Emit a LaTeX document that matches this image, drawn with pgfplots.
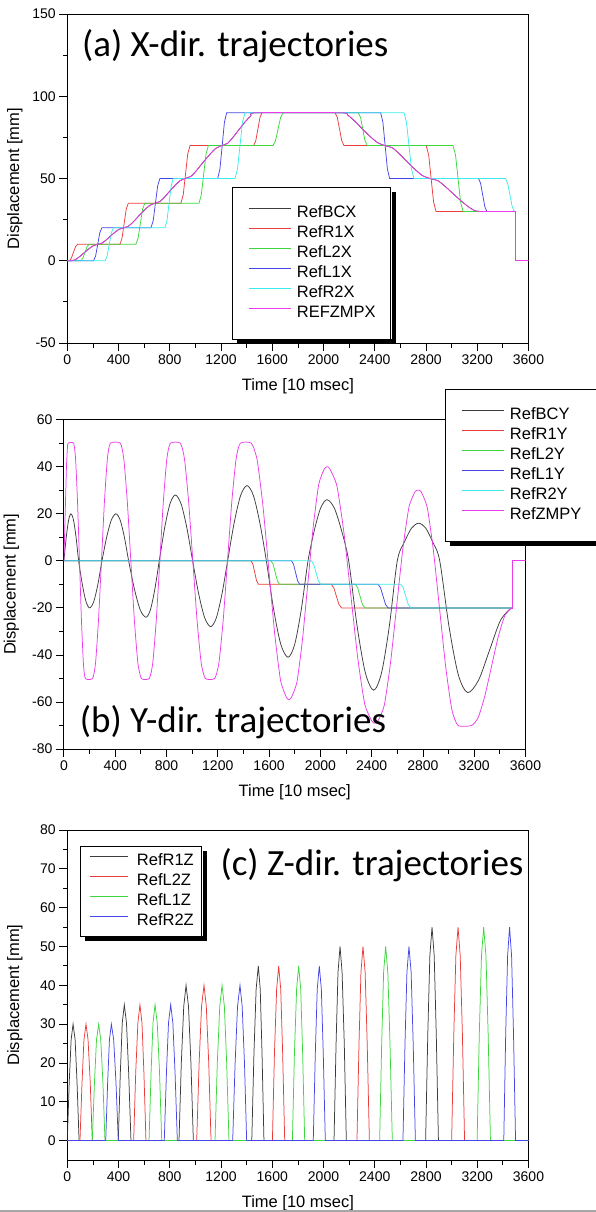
\documentclass[border=0pt]{standalone}
\usepackage{fontspec}
\setmainfont{Liberation Sans}
\newfontfamily\carlito{Carlito}
\usepackage{pgfplots}
\pgfplotsset{compat=1.18}
\definecolor{cBk}{RGB}{60,60,60}
\definecolor{cRd}{RGB}{235,60,60}
\definecolor{cGn}{RGB}{60,215,60}
\definecolor{cBl}{RGB}{70,70,230}
\definecolor{cCy}{RGB}{60,235,235}
\definecolor{cMg}{RGB}{235,60,235}
\pgfplotsset{
  myaxis/.style={
    scale only axis, xmin=0, xmax=3600, xtick={0,400,...,3600},
    minor x tick num=1, minor y tick num=1,
    tick align=outside, tick pos=left,
    major tick length=8pt, minor tick length=4.5pt,
    every tick/.append style={black, line width=0.8pt},
    axis line style={line width=1pt},
    tick label style={font=\fontsize{14}{16}\selectfont},
    /pgf/number format/assume math mode=true,
    /pgf/number format/1000 sep={},
    scaled ticks=false,
    xlabel={Time [10 msec]},
    ylabel={Displacement [mm]},
    label style={font=\fontsize{16.5}{19}\selectfont},
    xlabel style={at={(axis description cs:0.5,-0.108)}, anchor=north, inner sep=0pt},
    ylabel style={at={(axis description cs:-0.0965,0.5)}, anchor=south, inner sep=0pt},
    legend cell align=left,
    every axis plot/.append style={line width=0.75pt},
  },
  legbig/.style={
    legend image code/.code={\draw[##1, line width=0.75pt] (0pt,4.5pt) -- (42pt,4.5pt);},
    legend style={at={(#1)}, anchor=north west, draw=none, fill=white,
      inner xsep=16pt, inner ysep=18.5pt, row sep=5pt, column sep=6pt,
      nodes={inner sep=0pt, text height=12pt, text depth=3pt, font=\fontsize{16.5}{19}\selectfont}}
  },
  legsmall/.style={
    legend image code/.code={\draw[##1, line width=0.75pt] (0pt,4.5pt) -- (38pt,4.5pt);},
    legend style={at={(#1)}, anchor=north west, draw=none, fill=white,
      inner xsep=9pt, inner ysep=7.5pt, row sep=5pt, column sep=9pt,
      nodes={inner sep=0pt, text height=12pt, text depth=3pt, font=\fontsize{16.5}{19}\selectfont}}
  },
}
\newcommand\ttl{\carlito\fontsize{37}{41}\selectfont}
\begin{document}
\begin{tikzpicture}
\useasboundingbox (0,0) rectangle (596pt,-1212pt);
% legend shadows (drawn first, behind everything)
\fill[black] (236.95pt,-192.05pt) rectangle (395.8pt,-344.05pt);
\fill[black] (450pt,-394pt) rectangle (601.5pt,-546pt);
\fill[black] (84.98pt,-851pt) rectangle (206.8pt,-941pt);
% ---------------- (a)
\begin{axis}[myaxis, at={(67.3pt,-343pt)}, anchor=south west, width=461.2pt, height=329pt,
  ymin=-50, ymax=150, ytick={-50,0,50,100,150}, legbig={0.357,0.474}]
\addplot[draw=cBk, smooth, tension=0.4] coordinates {(0,0)(30,0)(64.5,0.7)(99,2.7)(133.5,5)(168,7.2)(202.5,9.1)(237,10)(270,10.7)(304,12.7)(337,15)(370,17.2)(404,19.1)(437,20)(478,21.05)(520,24.05)(561,27.5)(602,30.8)(644,33.65)(685,35)(724,36.05)(763,39.05)(802,42.5)(841,45.8)(880,48.65)(919,50)(967,51.4)(1014,55.4)(1062,60)(1110,64.4)(1157,68.2)(1205,70)(1251,71.4)(1297,75.4)(1343,80)(1388,84.4)(1434,88.2)(1480,90)(2130,90)(2188,88.6)(2247,84.6)(2305,80)(2363,75.6)(2422,71.8)(2480,70)(2538,68.6)(2597,64.6)(2655,60)(2713,55.6)(2772,51.8)(2830,50)(2894,48.6)(2958,44.6)(3022,40)(3086,35.6)(3150,31.8)(3214,30)(3500,30)};
\addlegendentry{RefBCX}
\addplot[draw=cRd] coordinates {(0,0)(15,0)(31,1.46)(47.5,5)(64,8.54)(80,10)(411,10)(427,13.65)(443.5,22.5)(460,31.35)(476,35)(887,35)(905,40.1)(922.5,52.5)(940,64.9)(958,70)(1455,70)(1471,72.9)(1487.5,80)(1504,87.1)(1520,90)(2090,90)(2107.5,87.1)(2125,80)(2142.5,72.9)(2160,70)(2802,70)(2821,64.2)(2840,50)(2859,35.8)(2878,30)(3500,30)};
\addlegendentry{RefR1X}
\addplot[draw=cGn] coordinates {(0,0)(105,0)(121,1.46)(137.5,5)(154,8.54)(170,10)(535,10)(552.5,13.65)(570,22.5)(587.5,31.35)(605,35)(1028,35)(1046,40.1)(1064.5,52.5)(1083,64.9)(1101,70)(1605,70)(1625,72.9)(1645,80)(1665,87.1)(1685,90)(2271,90)(2289,87.1)(2306.5,80)(2324,72.9)(2342,70)(3011,70)(3030.5,64.2)(3050,50)(3069.5,35.8)(3089,30)(3500,30)};
\addlegendentry{RefL2X}
\addplot[draw=cBl] coordinates {(0,0)(205,0)(221,2.9)(237.5,10)(254,17.1)(270,20)(653,20)(670.5,24.4)(688,35)(705.5,45.6)(723,50)(1174,50)(1191.5,55.8)(1209,70)(1226.5,84.2)(1244,90)(2446,90)(2463.5,84.2)(2481,70)(2498.5,55.8)(2516,50)(3210,50)(3226,47.1)(3242.5,40)(3259,32.9)(3275,30)(3500,30)};
\addlegendentry{RefL1X}
\addplot[draw=cCy] coordinates {(0,0)(295,0)(311,2.9)(327.5,10)(344,17.1)(360,20)(762,20)(778,24.4)(794.5,35)(811,45.6)(827,50)(1309,50)(1328.5,55.8)(1348,70)(1367.5,84.2)(1387,90)(2628,90)(2647.5,84.2)(2667,70)(2686.5,55.8)(2706,50)(3420,50)(3437.5,47.1)(3455,40)(3472.5,32.9)(3490,30)(3500,30)};
\addlegendentry{RefR2X}
\addplot[draw=cMg, smooth, tension=0.4] coordinates {(0,0)(30,0)(64.5,0.7)(99,2.7)(133.5,5)(168,7.2)(202.5,9.1)(237,10)(270,10.7)(304,12.7)(337,15)(370,17.2)(404,19.1)(437,20)(478,21.05)(520,24.05)(561,27.5)(602,30.8)(644,33.65)(685,35)(724,36.05)(763,39.05)(802,42.5)(841,45.8)(880,48.65)(919,50)(967,51.4)(1014,55.4)(1062,60)(1110,64.4)(1157,68.2)(1205,70)(1251,71.4)(1297,75.4)(1343,80)(1388,84.4)(1434,88.2)(1480,90)(2130,90)(2188,88.6)(2247,84.6)(2305,80)(2363,75.6)(2422,71.8)(2480,70)(2538,68.6)(2597,64.6)(2655,60)(2713,55.6)(2772,51.8)(2830,50)(2894,48.6)(2958,44.6)(3022,40)(3086,35.6)(3150,31.8)(3214,30)(3500,30)};
\addlegendentry{REFZMPX}
\addplot[draw=cMg, forget plot] coordinates {(3500,30)(3500,0)(3600,0)};
\node[anchor=base west, inner sep=0pt, font=\ttl] at (axis description cs:0.0319,0.870) {(a) X-dir. trajectories};
\end{axis}
% ---------------- (b)
\begin{axis}[myaxis, at={(63.9pt,-749pt)}, anchor=south west, width=461.6pt, height=329.3pt,
  ymin=-80, ymax=60, ytick={-80,-60,...,60}, legbig={0.8256,1.0932}]
\addplot[draw=cBk, smooth] coordinates {(0,0)(18.3,10)(36.7,17.3)(55,20)(75,17.3)(95,10)(115,0)(143.7,-10)(172.3,-17.3)(201,-20)(233,-17.3)(265,-10)(297,0)(333.3,10)(369.7,17.3)(406,20)(439,17.3)(472,10)(505,0)(550,-12)(595,-20.8)(640,-24)(674.7,-20.8)(709.3,-12)(744,0)(785.7,14)(827.3,24.2)(869,28)(914,24.2)(959,14)(1004,0)(1051,-14)(1098,-24.2)(1145,-28)(1189,-24.2)(1233,-14)(1277,0)(1327.3,16)(1377.7,27.7)(1428,32)(1478.3,27.7)(1528.7,16)(1579,0)(1635.3,-20.5)(1691.7,-35.5)(1748,-41)(1800,-35.5)(1852,-20.5)(1904,0)(1953.3,13)(2002.7,22.5)(2052,26)(2108.3,22.5)(2164.7,13)(2221,0)(2286,-27.5)(2351,-47.6)(2416,-55)(2477.3,-47.6)(2538.7,-27.5)(2600,0)(2655.7,8)(2711.3,13.9)(2767,16)(2821.7,13.9)(2876.3,8)(2931,0)(3003.7,-28)(3076.3,-48.5)(3149,-56)(3234,-50.7)(3319.5,-38)(3405,-25.3)(3490,-20)};
\addlegendentry{RefBCY}
\addplot[draw=cRd] coordinates {(0,0)(1459,0)(1474,-1.46)(1488.5,-5)(1503,-8.54)(1518,-10)(2085,-10)(2105,-11.46)(2125,-15)(2145,-18.54)(2165,-20)(3490,-20)};
\addlegendentry{RefR1Y}
\addplot[draw=cGn] coordinates {(0,0)(1615,0)(1632,-1.46)(1648.5,-5)(1665,-8.54)(1682,-10)(2273,-10)(2291,-11.46)(2309.5,-15)(2328,-18.54)(2346,-20)(3490,-20)};
\addlegendentry{RefL2Y}
\addplot[draw=cBl] coordinates {(0,0)(1775,0)(1791,-1.46)(1807,-5)(1823,-8.54)(1839,-10)(2450,-10)(2469.5,-11.46)(2489,-15)(2508.5,-18.54)(2528,-20)(3490,-20)};
\addlegendentry{RefL1Y}
\addplot[draw=cCy] coordinates {(0,0)(1930,0)(1948,-1.46)(1966.5,-5)(1985,-8.54)(2003,-10)(2627,-10)(2646.5,-11.46)(2666,-15)(2685.5,-18.54)(2705,-20)(3490,-20)};
\addlegendentry{RefR2Y}
\addplot[draw=cMg, smooth, tension=0.35] coordinates {(0,0)(10,20)(20,40)(27,47.5)(32,50)(76,50)(91.2,43.3)(106.3,25)(121.5,0)(136.7,-25)(151.8,-43.3)(167,-50)(224,-50)(247,-43.3)(270,-25)(293,0)(316,25)(339,43.3)(362,50)(440,50)(467.3,43.3)(494.7,25)(522,0)(549.3,-25)(576.7,-43.3)(604,-50)(666,-50)(693.3,-43.3)(720.7,-25)(748,0)(775.3,25)(802.7,43.3)(830,50)(908,50)(940.5,43.3)(973,25)(1005.5,0)(1038,-25)(1070.5,-43.3)(1103,-50)(1176,-50)(1209.3,-43.3)(1242.7,-25)(1276,0)(1309.3,25)(1342.7,43.3)(1376,50)(1462,50)(1507.5,42.8)(1553,23)(1598.5,-4)(1644,-31)(1689.5,-50.8)(1735,-58)(1755,-59)(1775,-58)(1817.5,-51.5)(1860,-33.75)(1902.5,-9.5)(1945,14.75)(1987.5,32.5)(2030,39)(2053,40)(2075,39)(2129.2,31.8)(2183.3,12.25)(2237.5,-14.5)(2291.7,-41.25)(2345.8,-60.8)(2400,-68)(2425,-69)(2450,-68)(2498.3,-61.5)(2546.7,-43.6)(2595,-19.25)(2643.3,5.1)(2691.7,23)(2740,29.5)(2762,30)(2785,29.5)(2833.2,22.8)(2881.3,4.6)(2929.5,-20.25)(2977.7,-45.1)(3025.8,-63.3)(3074,-70)(3179,-70)(3230.8,-66.65)(3282.7,-57.5)(3334.5,-45)(3386.3,-32.5)(3438.2,-23.35)(3490,-20)};
\addlegendentry{RefZMPY}
\addplot[draw=cMg, forget plot] coordinates {(3490,-20)(3500,-20)(3500,0)(3600,0)};
\node[anchor=base west, inner sep=0pt, font=\ttl] at (axis description cs:0.0344,0.0507) {(b) Y-dir. trajectories};
\end{axis}
% ---------------- (c)
\begin{axis}[myaxis, at={(67.3pt,-1160pt)}, anchor=south west, width=461.2pt, height=330pt,
  ymin=-5, ymax=80, ytick={0,10,...,80}, legsmall={0.0275,0.9515}]
\addplot[draw=cBk] coordinates {(0,0)(15,15)(30,26)(45,30)(61,26)(76,15)(92,0)(398,0)(414,17.5)(429,30.3)(445,35)(462,30.3)(479,17.5)(497,0)(872,0)(890,20)(909,34.6)(927,40)(946,34.6)(965,20)(984,0)(1440,0)(1457,22.5)(1474,39)(1491,45)(1506,39)(1520,22.5)(1535,0)(2082,0)(2098,25)(2113,43.3)(2129,50)(2145,43.3)(2162,25)(2178,0)(2797,0)(2814,27.5)(2830,47.6)(2847,55)(2864,47.6)(2880,27.5)(2897,0)(3600,0)};
\addlegendentry{RefR1Z}
\addplot[draw=cRd] coordinates {(0,0)(99,0)(115,15)(130,26)(146,30)(162,26)(179,15)(195,0)(518,0)(534,17.5)(551,30.3)(567,35)(583,30.3)(598,17.5)(614,0)(1010,0)(1029,20)(1048,34.6)(1067,40)(1085,34.6)(1104,20)(1122,0)(1601,0)(1617,22.5)(1634,39)(1650,45)(1666,39)(1681,22.5)(1697,0)(2261,0)(2277,25)(2292,43.3)(2308,50)(2325,43.3)(2341,25)(2358,0)(3000,0)(3017,27.5)(3033,47.6)(3050,55)(3067,47.6)(3084,27.5)(3101,0)(3600,0)};
\addlegendentry{RefL2Z}
\addplot[draw=cGn] coordinates {(0,0)(195,0)(212,15)(228,26)(245,30)(261,26)(278,15)(294,0)(638,0)(654,17.5)(669,30.3)(685,35)(702,30.3)(720,17.5)(737,0)(1153,0)(1171,20)(1190,34.6)(1208,40)(1226,34.6)(1244,20)(1262,0)(1757,0)(1773,22.5)(1790,39)(1806,45)(1822,39)(1837,22.5)(1853,0)(2438,0)(2454,25)(2469,43.3)(2485,50)(2502,43.3)(2519,25)(2537,0)(3199,0)(3216,27.5)(3233,47.6)(3250,55)(3268,47.6)(3285,27.5)(3303,0)(3600,0)};
\addlegendentry{RefL1Z}
\addplot[draw=cBl] coordinates {(0,0)(300,0)(315,15)(329,26)(344,30)(362,26)(380,15)(398,0)(757,0)(774,17.5)(790,30.3)(807,35)(824,30.3)(841,17.5)(859,0)(1291,0)(1310,20)(1329,34.6)(1348,40)(1365,34.6)(1383,20)(1400,0)(1920,0)(1936,22.5)(1951,39)(1967,45)(1983,39)(1998,22.5)(2014,0)(2620,0)(2636,25)(2651,43.3)(2667,50)(2684,43.3)(2700,25)(2717,0)(3407,0)(3422,27.5)(3437,47.6)(3452,55)(3468,47.6)(3483,27.5)(3499,0)(3600,0)};
\addlegendentry{RefR2Z}
\node[anchor=base west, inner sep=0pt, font=\ttl] at (axis description cs:0.332,0.8636) {(c) Z-dir. trajectories};
\end{axis}
% legend borders (drawn last)
\draw[black, line width=0.8pt] (231.95pt,-187.05pt) rectangle (390.8pt,-339.05pt);
\draw[black, line width=0.8pt] (445pt,-389pt) rectangle (596.5pt,-541pt);
\draw[black, line width=0.8pt] (79.98pt,-846pt) rectangle (201.8pt,-936pt);
\draw[black!35, line width=1.5pt] (0pt,-1211pt) -- (596pt,-1211pt);
\end{tikzpicture}
\end{document}
